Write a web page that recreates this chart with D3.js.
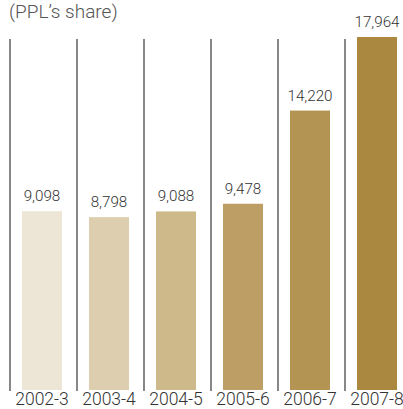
<!DOCTYPE html>
<html>
<head>
<meta charset="utf-8">
<script src="https://cdn.jsdelivr.net/npm/d3@7"></script>
<style>
  html, body { margin: 0; padding: 0; background: #fff; }
  svg { display: block; }
  text { font-family: Roboto, "DejaVu Sans", sans-serif; }
</style>
</head>
<body>
<script>
// Fiscal years and PPL's share per year
const years = ["2002-3", "2003-4", "2004-5", "2005-6", "2006-7", "2007-8"];
const shares = [9098, 8798, 9088, 9478, 14220, 17964];
const barColors = ["#EDE5D6", "#DDCEAF", "#CEB98B", "#BD9F66", "#B39452", "#AA8840"];
const titleText = "(PPL\u2019s share)";

const W = 403, H = 409;
const svg = d3.select("body").append("svg").attr("width", W).attr("height", H);

// Each year gets a column starting at a thin rule on its left
const x = d3.scaleBand().domain(years).range([10, 412]).paddingInner(0).paddingOuter(0);
const y = d3.scaleLinear().domain([0, 17964]).range([390, 37]);

const fmt = d3.format(",");

svg.append("text")
  .attr("x", 9).attr("y", 18)
  .attr("font-size", 19)
  .attr("font-weight", 300)
  .attr("fill", "#555")
  .text(titleText);

// Column rules
svg.selectAll("line.rule").data(years).enter().append("line")
  .attr("class", "rule")
  .attr("x1", d => x(d)).attr("x2", d => x(d))
  .attr("y1", 39).attr("y2", 391)
  .attr("stroke", "#555").attr("stroke-width", 1.4);

const barW = 40, barOff = 12;

svg.selectAll("rect.bar").data(shares).enter().append("rect")
  .attr("class", "bar")
  .attr("x", (d, i) => x(years[i]) + barOff)
  .attr("width", barW)
  .attr("y", d => y(d))
  .attr("height", d => y(0) - y(d))
  .attr("fill", (d, i) => barColors[i]);

svg.selectAll("text.val").data(shares).enter().append("text")
  .attr("class", "val")
  .attr("x", (d, i) => x(years[i]) + barOff + barW / 2)
  .attr("y", d => y(d) - 10)
  .attr("text-anchor", "middle")
  .attr("font-size", 15.2)
  .attr("font-weight", 300)
  .attr("fill", "#333")
  .text(d => fmt(d));

// Year labels along the bottom
const xAxis = d3.axisBottom(x).tickSize(0).tickPadding(0);
const gx = svg.append("g").attr("transform", "translate(" + (barOff + barW / 2 - x.bandwidth() / 2) + ",404.5)").call(xAxis);
gx.select(".domain").remove();
gx.selectAll("text")
  .attr("dy", 0)
  .attr("font-size", 17.5)
  .attr("font-weight", 300)
  .attr("fill", "#333")
  .attr("font-family", "Roboto, sans-serif");
</script>
</body>
</html>
